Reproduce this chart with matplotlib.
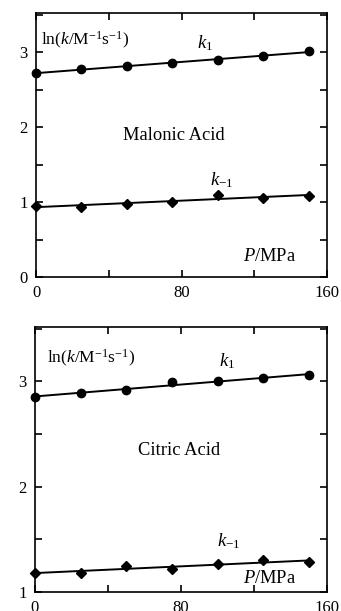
import numpy as np
import matplotlib
matplotlib.use("Agg")
import matplotlib.pyplot as plt
from matplotlib.ticker import MultipleLocator, FixedLocator

plt.rcParams['font.family'] = ['Liberation Serif', 'DejaVu Serif']
plt.rcParams['mathtext.fontset'] = 'custom'
plt.rcParams['mathtext.rm'] = 'Liberation Serif'
plt.rcParams['mathtext.it'] = 'Liberation Serif:italic'

pressure = [0, 25, 50, 75, 100, 125, 150]
malonic_k1 = [2.72, 2.77, 2.81, 2.86, 2.89, 2.95, 3.01]
malonic_km1 = [0.95, 0.93, 0.98, 1.00, 1.09, 1.06, 1.08]
citric_k1 = [2.85, 2.89, 2.92, 2.99, 3.00, 3.03, 3.06]
citric_km1 = [1.18, 1.18, 1.24, 1.22, 1.26, 1.30, 1.28]
x_ticklabels = ['0', '80', '160']

fig = plt.figure(figsize=(3.41, 6.11), dpi=100)
ax1 = fig.add_axes([0.1056, 0.5466, 0.8534, 0.4321])
ax2 = fig.add_axes([0.1026, 0.0316, 0.8564, 0.4337])

def style(ax, ymin, ymax):
    ax.set_xlim(0, 160)
    ax.set_ylim(ymin, ymax)
    ax.xaxis.set_major_locator(FixedLocator([0, 80, 160]))
    ax.xaxis.set_minor_locator(FixedLocator([40, 120]))
    ax.set_xticklabels(x_ticklabels)
    ax.yaxis.set_major_locator(MultipleLocator(1))
    ax.yaxis.set_minor_locator(MultipleLocator(0.5))
    ax.tick_params(which='both', direction='in', top=True, right=True,
                   length=5, width=1.2, labelsize=12, pad=6)
    for s in ax.spines.values():
        s.set_linewidth(1.2)

def draw(ax, k1, km1):
    x = np.array(pressure, float)
    for vals, mk in ((k1, 'o'), (km1, 'D')):
        p = np.polyfit(x, vals, 1)
        xx = np.array([0, 150])
        ax.plot(xx, np.polyval(p, xx), color='black', lw=1.4, clip_on=False)
        ax.plot(x, vals, mk, color='black', ms=6 if mk == 'o' else 5, clip_on=False)

ln_label = r'ln($k$/M$^{\mathregular{-1}}$s$^{\mathregular{-1}}$)'

draw(ax1, malonic_k1, malonic_km1)
style(ax1, 0, 3.52)
ax1.text(3, 3.15, ln_label, fontsize=12.5, ha='left', va='center')
ax1.text(93, 3.12, r'$k_{\mathregular{1}}$', fontsize=13.5, ha='center', va='center')
ax1.text(76, 1.89, 'Malonic Acid', fontsize=13.3, ha='center', va='center')
ax1.text(102, 1.29, r'$k_{\mathregular{-1}}$', fontsize=13.5, ha='center', va='center')
ax1.text(128.5, 0.27, r'$P$/MPa', fontsize=13.3, ha='center', va='center')

draw(ax2, citric_k1, citric_km1)
style(ax2, 1, 3.52)
ax2.text(6.6, 3.22, ln_label, fontsize=12.5, ha='left', va='center')
ax2.text(105, 3.19, r'$k_{\mathregular{1}}$', fontsize=13.5, ha='center', va='center')
ax2.text(79, 2.34, 'Citric Acid', fontsize=13.3, ha='center', va='center')
ax2.text(106, 1.48, r'$k_{\mathregular{-1}}$', fontsize=13.5, ha='center', va='center')
ax2.text(128.5, 1.13, r'$P$/MPa', fontsize=13.3, ha='center', va='center')

fig.savefig('out.png', dpi=100)
